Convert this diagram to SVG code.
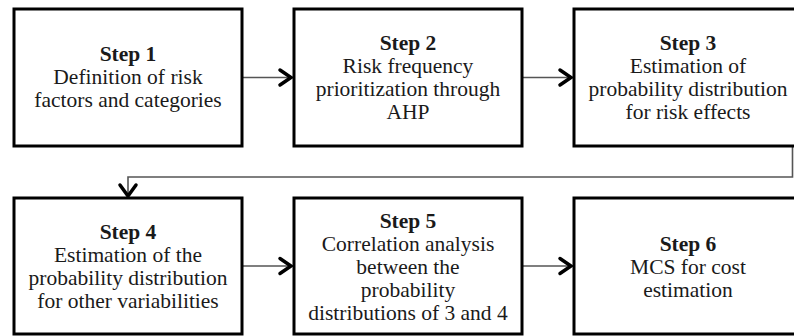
<svg xmlns="http://www.w3.org/2000/svg" width="794" height="336" viewBox="0 0 794 336">
<style>
.box{fill:#fff;stroke:#000;stroke-width:3}
.t{font-family:"Liberation Serif","Times New Roman",serif;font-size:21.5px;fill:#1a1a1a;text-anchor:middle}
.b{font-weight:bold}
.ln{fill:none;stroke:#555;stroke-width:1.6}
.hd{fill:none;stroke:#000;stroke-width:3.5;stroke-linecap:round;stroke-linejoin:miter}
</style>
<rect width="794" height="336" fill="#fff"/>
<g id="connectors">
<line class="ln" x1="242" y1="77.5" x2="291" y2="77.5"/>
<polyline class="hd" points="280,70 291,77.5 280,85"/>
<line class="ln" x1="522" y1="77.5" x2="571" y2="77.5"/>
<polyline class="hd" points="560,70 571,77.5 560,85"/>
<polyline class="ln" points="792.5,146 792.5,177 128,177 128,196"/>
<polyline class="hd" points="120,185 128,196 136,185"/>
<line class="ln" x1="242" y1="266" x2="291" y2="266"/>
<polyline class="hd" points="280,258.5 291,266 280,273.5"/>
<line class="ln" x1="522" y1="266" x2="571" y2="266"/>
<polyline class="hd" points="560,258.5 571,266 560,273.5"/>
</g>
<g id="step1">
<rect class="box" x="14" y="9" width="228" height="137"/>
<text class="t b" x="128" y="61">Step 1</text>
<text class="t" x="128" y="84">Definition of risk</text>
<text class="t" x="128" y="107">factors and categories</text>
</g>
<g id="step2">
<rect class="box" x="294" y="9" width="228" height="137"/>
<text class="t b" x="408" y="50">Step 2</text>
<text class="t" x="408" y="73">Risk frequency</text>
<text class="t" x="408" y="96">prioritization through</text>
<text class="t" x="408" y="119">AHP</text>
</g>
<g id="step3">
<rect class="box" x="574" y="9" width="228" height="137"/>
<text class="t b" x="688" y="50">Step 3</text>
<text class="t" x="688" y="73">Estimation of</text>
<text class="t" x="688" y="96">probability distribution</text>
<text class="t" x="688" y="119">for risk effects</text>
</g>
<g id="step4">
<rect class="box" x="14" y="198" width="228" height="136"/>
<text class="t b" x="128" y="238.5">Step 4</text>
<text class="t" x="128" y="261.5">Estimation of the</text>
<text class="t" x="128" y="284.5">probability distribution</text>
<text class="t" x="128" y="307.5">for other variabilities</text>
</g>
<g id="step5">
<rect class="box" x="294" y="198" width="228" height="136"/>
<text class="t b" x="408" y="227.5">Step 5</text>
<text class="t" x="408" y="250.5">Correlation analysis</text>
<text class="t" x="408" y="273.5">between the</text>
<text class="t" x="408" y="296.5">probability</text>
<text class="t" x="408" y="319.5">distributions of 3 and 4</text>
</g>
<g id="step6">
<rect class="box" x="574" y="198" width="228" height="136"/>
<text class="t b" x="688" y="251">Step 6</text>
<text class="t" x="688" y="274">MCS for cost</text>
<text class="t" x="688" y="297">estimation</text>
</g>
</svg>
